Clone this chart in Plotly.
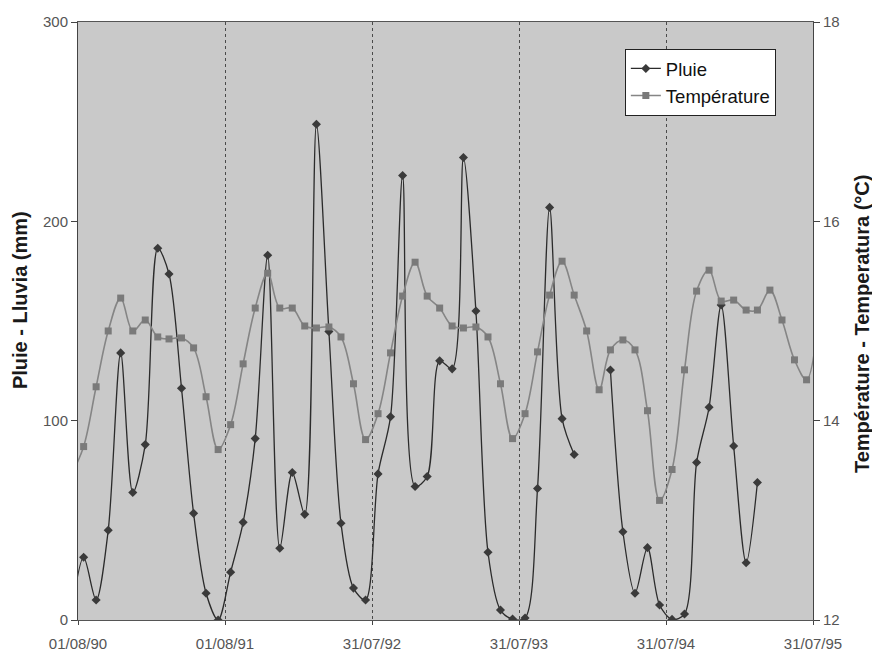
import pandas as pd
import plotly.graph_objects as go

# Monthly series, one value per month (mid-month), Jul 1990 -> Aug 1995
months = pd.date_range("1990-07-01", "1995-08-01", freq="MS") + pd.Timedelta(days=14)

# Rainfall (mm); None = missing month
pluie = [
    3,
    31.5, 10, 45, 134, 64, 88, 186.5, 173.6, 116.3, 53.5, 13.4, 0,
    24, 49, 91, 183, 36, 74, 53, 248.7, 144.7, 48.5, 16, 10,
    73.3, 102, 223, 67, 72, 130, 126, 232, 155, 34, 5, 0.5,
    1, 66, 207, 101, 83, None, None, 125.4, 44.3, 13.4, 36.3, 7.5,
    0.3, 3, 79, 106.7, 158, 87.3, 28.7, 69, None, None, None, None,
    None,
]

# Mean temperature (deg C)
temperature = [
    13.45,
    13.74, 14.34, 14.90, 15.23, 14.90, 15.01, 14.84, 14.82, 14.83, 14.73, 14.24, 13.71,
    13.96, 14.57, 15.13, 15.48, 15.13, 15.13, 14.95, 14.93, 14.94, 14.84, 14.37, 13.81,
    14.07, 14.68, 15.25, 15.59, 15.25, 15.13, 14.95, 14.93, 14.94, 14.84, 14.37, 13.82,
    14.07, 14.69, 15.26, 15.60, 15.26, 14.90, 14.31, 14.71, 14.81, 14.71, 14.10, 13.20,
    13.51, 14.51, 15.30, 15.51, 15.20, 15.21, 15.11, 15.11, 15.31, 15.01, 14.61, 14.41,
    15.10,
]

# Yearly date ticks
tick_dates = ["1990-08-01", "1991-08-01", "1992-07-31", "1993-07-31", "1994-07-31", "1995-07-31"]
tick_labels = ["01/08/90", "01/08/91", "31/07/92", "31/07/93", "31/07/94", "31/07/95"]

fig = go.Figure()

fig.add_trace(go.Scatter(
    x=months, y=pluie, name="Pluie", yaxis="y",
    mode="lines+markers", connectgaps=False,
    line=dict(color="#2b2b2b", width=1.3, shape="spline", smoothing=0.85),
    marker=dict(symbol="diamond", size=7, color="#3a3a3a"),
))

fig.add_trace(go.Scatter(
    x=months, y=temperature, name="Température", yaxis="y2",
    mode="lines+markers",
    line=dict(color="#858585", width=1.6, shape="spline", smoothing=1.0),
    marker=dict(symbol="square", size=7, color="#7a7a7a"),
))

tick_font = dict(family="Liberation Sans, Arial, sans-serif", size=15, color="#555555")
title_font = dict(family="Liberation Sans, Arial, sans-serif", size=20, color="#1a1a1a")

fig.update_layout(
    width=872, height=652,
    margin=dict(l=78, r=59, t=22, b=32),
    paper_bgcolor="white",
    plot_bgcolor="#c9c9c9",
    showlegend=True,
    legend=dict(
        x=0.744, y=0.955, xanchor="left", yanchor="top",
        bgcolor="white", bordercolor="#222", borderwidth=1,
        font=dict(family="Liberation Sans, Arial, sans-serif", size=18.5, color="#111"),
        itemwidth=30, tracegroupgap=0,
    ),
    xaxis=dict(
        type="date",
        range=["1990-08-01", "1995-07-31"],
        tickvals=tick_dates, ticktext=tick_labels,
        tickfont=tick_font,
        ticks="outside", ticklen=4, tickcolor="#444",
        ticklabelstandoff=6,
        automargin=False,
        showline=True, linecolor="#555", linewidth=1, mirror=True,
        showgrid=True, gridcolor="#4a4a4a", gridwidth=1, griddash="3px,3px",
        zeroline=False,
    ),
    yaxis=dict(
        range=[0, 300], tickvals=[0, 100, 200, 300],
        tickfont=tick_font,
        ticks="outside", ticklen=6, tickcolor="#444",
        automargin=False,
        showline=True, linecolor="#444", linewidth=1,
        showgrid=False, zeroline=False,
    ),
    yaxis2=dict(
        range=[12, 18], tickvals=[12, 14, 16, 18],
        overlaying="y", side="right",
        tickfont=tick_font,
        ticks="outside", ticklen=6, tickcolor="#444",
        automargin=False,
        showline=True, linecolor="#444", linewidth=1,
        showgrid=False, zeroline=False,
    ),
    annotations=[
        dict(text="<b>Pluie - Lluvia (mm)</b>", textangle=-90,
             xref="paper", yref="paper", x=-0.0789, y=0.535,
             xanchor="center", yanchor="middle", showarrow=False, font=title_font),
        dict(text="<b>Température - Temperatura (°C)</b>", textangle=-90,
             xref="paper", yref="paper", x=1.0667, y=0.495,
             xanchor="center", yanchor="middle", showarrow=False, font=title_font),
    ],
)

fig.write_html("out.html")
